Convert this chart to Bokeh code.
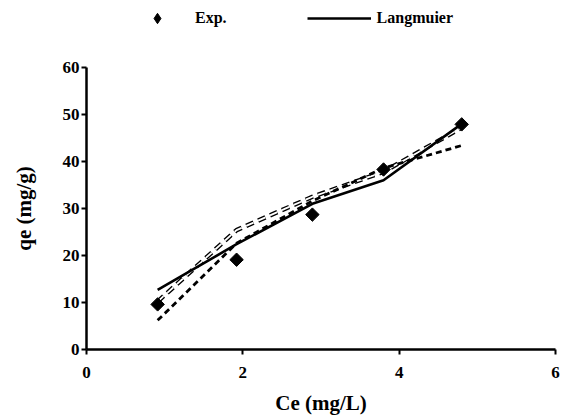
from bokeh.plotting import figure
from bokeh.models import Range1d, FixedTicker, Legend, LegendItem, ColumnDataSource
from bokeh.layouts import column
from bokeh.embed import file_html
from bokeh.resources import INLINE
import math

# Data
ce = [0.91, 1.92, 2.89, 3.80, 4.80]
qe_exp = [9.6, 19.1, 28.7, 38.3, 47.9]
qe_langmuir = [12.7, 22.4, 31.0, 36.0, 48.0]
qe_dashed = [6.2, 22.6, 31.6, 38.6, 43.4]
qe_hollow = [10.2, 25.4, 32.5, 37.8, 47.2]
x_ticks = [0, 2, 4, 6]
y_ticks = [0, 10, 20, 30, 40, 50, 60]
legend_labels = ["Exp.", "Langmuier"]

FONT = "Liberation Serif"
TOP_H = 40

# ---- legend strip (above the plot) ----
top = figure(width=564, height=TOP_H, output_backend="svg", toolbar_location=None,
             x_axis_type=None, y_axis_type=None, min_border=0,
             x_range=Range1d(0, 1), y_range=Range1d(0, 1))
top.outline_line_color = None
top.xgrid.visible = False
top.ygrid.visible = False
# off-range placeholder renderers used only for legend swatches
lg_exp = top.scatter(x=[-10], y=[-10], marker="diamond", size=15, fill_color="black", line_color="black")
lg_lang = top.line(x=[-10, -9], y=[-10, -9], line_color="black", line_width=2.6)
legend = Legend(items=[LegendItem(label=legend_labels[0], renderers=[lg_exp]),
                       LegendItem(label=legend_labels[1], renderers=[lg_lang])],
                orientation="horizontal", location=(39, 9),
                glyph_width=64, glyph_height=26, label_standoff=6, spacing=80,
                padding=0, margin=0,
                label_text_font=FONT, label_text_font_style="bold",
                label_text_font_size="16px", label_text_color="black",
                background_fill_alpha=0, border_line_color=None)
top.add_layout(legend, "center")

# ---- main plot ----
p = figure(width=564, height=419 - TOP_H, output_backend="svg", toolbar_location=None,
           x_range=Range1d(0, 6), y_range=Range1d(0, 60),
           min_border_left=86, min_border_right=9, min_border_top=67 - TOP_H, min_border_bottom=70)
p.outline_line_color = None
p.xgrid.visible = False
p.ygrid.visible = False
p.background_fill_color = "white"
p.border_fill_color = "white"

for ax in (p.xaxis[0], p.yaxis[0]):
    ax.axis_line_width = 2.5
    ax.axis_line_color = "black"
    ax.major_tick_line_width = 2
    ax.major_tick_line_color = "black"
    ax.major_tick_out = 5
    ax.major_tick_in = 0
    ax.minor_tick_out = 0
    ax.minor_tick_in = 0
    ax.major_label_text_font = FONT
    ax.major_label_text_font_style = "bold"
    ax.major_label_text_font_size = "17px"
    ax.major_label_text_color = "black"
    ax.axis_label_text_font = FONT
    ax.axis_label_text_font_style = "bold"
    ax.axis_label_text_font_size = "21px"
    ax.axis_label_text_color = "black"

p.xaxis[0].ticker = FixedTicker(ticks=x_ticks)
p.yaxis[0].ticker = FixedTicker(ticks=y_ticks)
p.xaxis[0].axis_label = "Ce (mg/L)"
p.yaxis[0].axis_label = "qe (mg/g)"
p.xaxis[0].major_label_standoff = 12
p.xaxis[0].axis_label_standoff = 10
p.yaxis[0].major_label_standoff = 2
p.yaxis[0].axis_label_standoff = 24

src = ColumnDataSource(dict(x=ce, exp=qe_exp, lang=qe_langmuir, dash=qe_dashed, hol=qe_hollow))

# Hollow (double) dashed line
p.line("x", "hol", source=src, line_color="black", line_width=4.5, line_dash="8 5")
p.line("x", "hol", source=src, line_color="white", line_width=1.8, line_dash="8 5")
# Dashed line
p.line("x", "dash", source=src, line_color="black", line_width=2.8, line_dash="6 4")
# Langmuir solid
p.line("x", "lang", source=src, line_color="black", line_width=2.6)
# Experimental diamonds
p.scatter("x", "exp", source=src, marker="square", size=9.5, angle=math.pi / 4,
          fill_color="black", line_color="black")

layout = column(top, p, spacing=0)
open("out.html", "w").write(file_html(layout, INLINE))
